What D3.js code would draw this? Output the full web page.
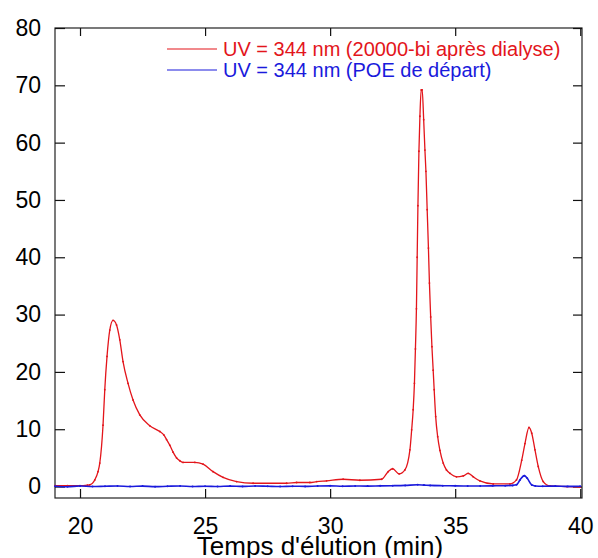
<!DOCTYPE html>
<html><head><meta charset="utf-8">
<script src="https://cdn.jsdelivr.net/npm/d3@7"></script>
<style>body{margin:0;background:#fff}svg{display:block}text{font-family:"Liberation Sans",Arial,sans-serif}</style>
</head><body>
<script>
const xTicks = [20, 25, 30, 35, 40];
const yTicks = [0, 10, 20, 30, 40, 50, 60, 70, 80];
const seriesNames = ["UV = 344 nm (20000-bi après dialyse)", "UV = 344 nm (POE de départ)"];
const xLabel = "Temps d'élution (min)";

const redT = [19,19.5,20,20.3,20.39,20.59,20.72,20.79,20.92,20.99,21.08,21.19,21.32,21.46,21.59,21.72,21.92,22.12,22.39,22.79,23.19,23.35,23.46,23.59,23.72,23.86,23.99,24.12,24.59,24.92,25.32,25.72,26.26,26.92,28.26,28.66,29.19,29.46,29.86,30.52,31.19,32.06,32.32,32.5,32.76,32.99,33.19,33.26,33.32,33.37,33.41,33.45,33.48,33.51,33.55,33.59,33.64,33.68,33.74,33.79,33.83,33.88,33.93,33.97,34.02,34.07,34.12,34.16,34.22,34.3,34.39,34.52,34.65,34.79,35.05,35.32,35.52,35.72,35.99,36.52,37.19,37.45,37.66,37.79,37.95,38.06,38.19,38.32,38.52,38.79,39.46,40];
const redV = [0.15,0.15,0.15,0.25,0.3,1.15,2.6,4.1,10.7,16.9,22.7,27.3,29.0,28.2,25.6,21.8,18.0,15.1,12.5,10.6,9.6,9.0,8.2,7.2,6.0,5.0,4.5,4.2,4.2,3.9,2.6,1.6,0.86,0.57,0.57,0.7,0.7,0.86,1.0,1.27,1.1,1.27,2.6,3.1,2.2,2.9,6.4,9.9,13.4,18.0,24.0,31.0,40.0,49.0,58.5,64.6,69.2,69.2,64.0,58.7,55.0,48.3,41.6,35.5,29.6,24.4,20.3,16.9,12.2,8.7,6.3,4.1,2.9,2.3,1.7,1.85,2.3,1.7,0.98,0.45,0.45,1.15,4.6,7.5,10.3,9.3,6.4,3.5,0.86,0.1,0.0,-0.1];

const blueT = [19,19.5,20,20.5,21,21.5,22,22.5,23,23.5,24,24.5,25,25.5,26,26.5,27,27.5,28,28.5,29,29.5,30,30.5,31,31.5,32,32.5,33,33.5,33.75,34,34.5,35,35.5,36,36.5,37,37.3,37.45,37.59,37.76,37.88,38.06,38.2,38.5,39,39.5,40];
const blueV = [0.05,-0.05,0.1,0.0,0.05,0.1,0.0,0.08,-0.02,0.05,0.1,0.0,0.06,0.0,0.08,0.02,0.1,0.05,0.0,0.06,0.02,0.1,0.12,0.05,0.1,0.08,0.12,0.15,0.2,0.3,0.25,0.2,0.15,0.12,0.1,0.1,0.12,0.15,0.2,0.3,1.15,1.9,1.45,0.28,0.1,0.05,0.08,0.02,0.05];

const W = 598, H = 558;
const L = 55, R = 582, T = 28, B = 498;
const x = d3.scaleLinear().domain([19, 40.07]).range([L, R]);
const y = d3.scaleLinear().domain([-2, 80]).range([B, T]);

const svg = d3.select("body").append("svg").attr("width", W).attr("height", H);

const red = "#e3151b", blue = "#1a1adc";

svg.append("rect").attr("x", L).attr("y", T).attr("width", R - L).attr("height", B - T)
  .attr("fill", "none").attr("stroke", "#222").attr("stroke-width", 1.2);

const gB = svg.append("g").attr("transform", `translate(0,${B})`)
  .call(d3.axisBottom(x).tickValues(xTicks).tickSizeInner(-9).tickSizeOuter(0).tickPadding(20));
const gT = svg.append("g").attr("transform", `translate(0,${T})`)
  .call(d3.axisTop(x).tickValues(xTicks).tickSizeInner(-8).tickSizeOuter(0).tickFormat(""));
const gL = svg.append("g").attr("transform", `translate(${L},0)`)
  .call(d3.axisLeft(y).tickValues(yTicks).tickSizeInner(-10).tickSizeOuter(0).tickPadding(14));
const gR = svg.append("g").attr("transform", `translate(${R},0)`)
  .call(d3.axisRight(y).tickValues(yTicks).tickSizeInner(-9).tickSizeOuter(0).tickFormat(""));
[gB, gT, gL, gR].forEach(g => {
  g.select(".domain").remove();
  g.selectAll("line").attr("stroke", "#111").attr("stroke-width", 1.2);
  g.selectAll("text").attr("font-family", '"Liberation Sans",Arial,sans-serif').attr("font-size", 23).attr("fill", "#000");
});

const line = d3.line().x(d => x(d[0])).y(d => y(d[1])).curve(d3.curveMonotoneX);
const redData = redT.map((t, i) => [t, redV[i]]);
const blueData = blueT.map((t, i) => [t, blueV[i]]);

svg.append("path").datum(redData).attr("d", line).attr("fill", "none").attr("stroke", red).attr("stroke-width", 1.3);
svg.append("g").selectAll("circle").data(redData).join("circle")
  .attr("cx", d => x(d[0])).attr("cy", d => y(d[1])).attr("r", 0.9).attr("fill", red);
svg.append("path").datum(blueData).attr("d", line).attr("fill", "none").attr("stroke", blue).attr("stroke-width", 1.6);
svg.append("g").selectAll("circle").data(blueData).join("circle")
  .attr("cx", d => x(d[0])).attr("cy", d => y(d[1])).attr("r", 1).attr("fill", blue);

const leg = [[seriesNames[0], red, 49], [seriesNames[1], blue, 70]];
leg.forEach(([name, c, ly]) => {
  svg.append("line").attr("x1", 167).attr("x2", 217).attr("y1", ly).attr("y2", ly).attr("stroke", c).attr("stroke-width", 1.2);
  svg.append("text").attr("x", 223).attr("y", ly).attr("dy", "0.35em").attr("font-size", 20).attr("fill", c).text(name);
});

svg.append("text").attr("x", 320).attr("y", 555).attr("text-anchor", "middle").attr("font-size", 26).attr("fill", "#000").text(xLabel);
</script>
</body></html>
